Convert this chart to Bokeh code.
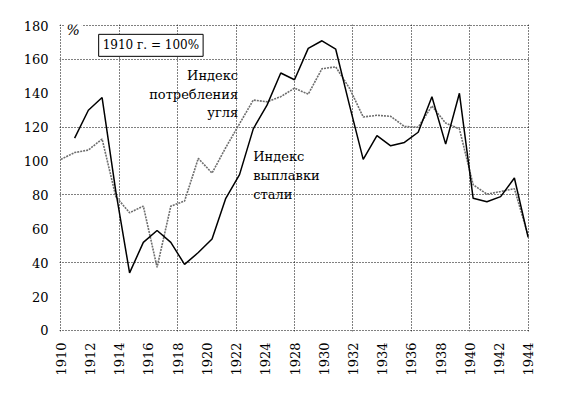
from bokeh.plotting import figure
from bokeh.models import Range1d, FixedTicker, Label
from bokeh.embed import file_html
from bokeh.resources import INLINE
import math

# ---- data ----
years_coal = list(range(1910, 1945))
coal = [101, 105, 106.5, 113, 79, 69.5, 73.4, 37.3, 73.4, 76.4,
        101.6, 92.9, 108, 122, 136, 135, 138, 143, 139.5, 154.5,
        155.6, 143, 126, 127, 126.4, 120.4, 120, 132.5, 122.4, 119,
        86, 80.5, 82, 83.7, 56]

years_steel = list(range(1911, 1945))
steel = [113.5, 130, 137.5, 82, 34, 52, 59, 52, 39,
         46, 54, 78, 92, 119, 133, 152, 148, 166.5, 171,
         166, 133, 101, 115, 109, 111, 117, 138, 110, 140,
         78, 76, 79, 90, 55]

tick_labels = ["1910", "1912", "1914", "1916", "1918", "1920", "1922", "1924",
               "1928", "1930", "1932", "1934", "1936", "1938", "1940", "1942", "1944"]
y_ticks = [0, 20, 40, 60, 80, 100, 120, 140, 160, 180]
y_grid = [0, 40, 80, 120, 160, 180]

FONT = "DejaVu Serif"

x0, x1 = 1910, 1944
step = (x1 - x0) / (len(tick_labels) - 1)
x_ticks = [x0 + i * step for i in range(len(tick_labels))]
x_grid = x_ticks[::2]

p = figure(width=577, height=385, output_backend="svg", toolbar_location=None,
           x_range=Range1d(x0 - 0.1, x1 + 0.1), y_range=Range1d(-0.6, 180.6),
           min_border_left=59, min_border_right=48, min_border_top=24, min_border_bottom=54)
p.outline_line_color = None
p.background_fill_color = "white"

# grids
p.xgrid.ticker = FixedTicker(ticks=x_grid)
p.ygrid.ticker = FixedTicker(ticks=y_grid)
for g in (p.xgrid, p.ygrid):
    g.grid_line_color = "black"
    g.grid_line_dash = "1 2"
    g.grid_line_width = 1

# axes
p.xaxis.ticker = FixedTicker(ticks=x_ticks)
p.xaxis.major_label_overrides = {t: lab for t, lab in zip(x_ticks, tick_labels)}
p.xaxis.major_label_orientation = math.pi / 2
p.yaxis.ticker = FixedTicker(ticks=y_ticks)
for ax in (p.xaxis, p.yaxis):
    ax.axis_line_color = None
    ax.major_tick_line_color = None
    ax.minor_tick_line_color = None
    ax.major_label_text_font = FONT
    ax.major_label_text_font_size = "13px"
    ax.major_label_text_color = "black"
    ax.major_label_standoff = 5

# lines
p.line(years_coal, coal, line_color="#6e6e6e", line_width=1.6, line_dash="2 1")
p.line(years_steel, steel, line_color="black", line_width=1.5)

# annotations
p.add_layout(Label(x=1910.9, y=177.3, text="%", text_font=FONT, text_font_size="14px",
                   text_font_style="italic", text_baseline="alphabetic", text_align="center",
                   text_color="black", background_fill_color="white", padding=2))
p.add_layout(Label(x=1912.75, y=168.3, text="1910 г. = 100%", text_font=FONT,
                   text_font_size="12px", text_baseline="middle", text_align="left",
                   text_color="black",
                   border_line_color="black", border_line_width=1,
                   background_fill_color="white", padding=4))

for txt, yy in [("Индекс", 150.5), ("потребления", 139.5), ("угля", 128.5)]:
    p.add_layout(Label(x=1922.9, y=yy, text=txt, text_font=FONT, text_font_size="13px",
                       text_baseline="middle", text_align="right", text_color="black"))
for txt, yy in [("Индекс", 102.5), ("выплавки", 91.5), ("стали", 80.5)]:
    p.add_layout(Label(x=1924.0, y=yy, text=txt, text_font=FONT, text_font_size="13px",
                       text_baseline="middle", text_align="left", text_color="black"))

open("out.html", "w").write(file_html(p, INLINE))
